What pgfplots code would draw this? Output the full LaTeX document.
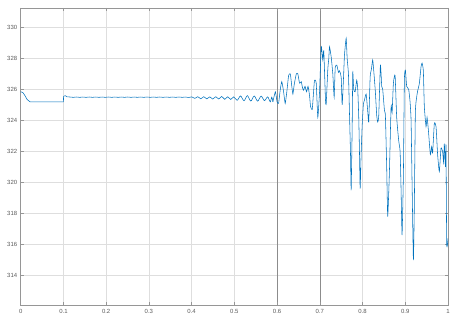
\documentclass[border=0pt]{standalone}
\usepackage{fontspec}
\setmainfont{Liberation Sans}
\usepackage{pgfplots}
\pgfplotsset{compat=1.18}
\definecolor{mblue}{RGB}{0,114,189}
\definecolor{gridc}{RGB}{222,222,222}
\definecolor{axc}{RGB}{150,150,150}
\definecolor{labc}{RGB}{90,90,90}
\definecolor{darkgrid}{RGB}{140,140,140}
\begin{document}
\begin{tikzpicture}
\path[use as bounding box] (-20.7bp,-16bp) rectangle (439.3bp,305bp);
\begin{axis}[
  scale only axis, width=427.3bp, height=297bp,
  xmin=0, xmax=1, ymin=312.1, ymax=331.25,
  xtick={0,0.1,...,1}, ytick={314,316,...,330},
  xticklabels={0,0.1,0.2,0.3,0.4,0.5,0.6,0.7,0.8,0.9,1},
  grid=major, grid style={gridc, line width=0.5bp},
  axis line style={axc, line width=0.6bp},
  tick style={axc, line width=0.5bp}, tick align=inside, major tick length=3bp,
  ticklabel style={font=\fontsize{6}{7}\selectfont, text=labc},
  /pgf/number format/assume math mode=true,
  yticklabel style={/pgf/number format/.cd, fixed, precision=0},
  xticklabel style={yshift=-1bp},
  extra x ticks={0.6,0.7}, extra x tick labels={},
  extra x tick style={grid style={darkgrid, line width=0.5bp}},
  clip=true,
]
\addplot[mblue, line width=0.55bp] coordinates {
(0,325.85) (0.005,325.8) (0.01,325.6) (0.015,325.35) (0.022,325.2) (0.1,325.2)
(0.1003,325.55) (0.104,325.6) (0.109,325.52)
};
\addplot[mblue, line width=0.55bp, smooth, tension=0.5] coordinates {
(0.109,325.52)
(0.1155,325.51) (0.123,325.49) (0.1305,325.51) (0.138,325.49) (0.1455,325.51) (0.153,325.49)
(0.1605,325.51) (0.168,325.49) (0.1755,325.51) (0.183,325.49) (0.1905,325.51) (0.198,325.49)
(0.2055,325.51) (0.213,325.49) (0.2205,325.51) (0.228,325.49) (0.2355,325.51) (0.243,325.49)
(0.2505,325.51) (0.258,325.49) (0.2655,325.51) (0.273,325.49) (0.2805,325.51) (0.288,325.49)
(0.2955,325.51) (0.303,325.49) (0.3105,325.51) (0.318,325.49) (0.3255,325.51) (0.333,325.49)
(0.3405,325.51) (0.348,325.49) (0.3555,325.51) (0.363,325.49) (0.3705,325.51) (0.378,325.49)
(0.3855,325.51) (0.393,325.48) (0.4005,325.52)
(0.4075,325.42) (0.4145,325.53) (0.4215,325.40) (0.4285,325.53) (0.4355,325.39) (0.4425,325.52)
(0.4495,325.38) (0.4565,325.53) (0.4635,325.38) (0.4705,325.55) (0.4775,325.36) (0.4845,325.53)
(0.4915,325.35) (0.4985,325.52)
(0.5065,325.3) (0.5145,325.58) (0.5225,325.27) (0.5305,325.6) (0.5385,325.25) (0.5465,325.58)
(0.5545,325.24) (0.5625,325.57) (0.5705,325.28) (0.578,325.52) (0.584,325.2) (0.5875,325.5)
(0.5902,325.2)
};
\addplot[mblue, line width=0.55bp, smooth, tension=0.3] coordinates {
(0.5902,325.2) (0.596,325.85) (0.600,325.2) (0.6035,325.1) (0.6075,326.0) (0.611,326.5)
(0.615,325.9) (0.619,325.1) (0.623,325.9) (0.627,326.9) (0.631,327.0) (0.634,326.3)
(0.637,325.7) (0.640,326.3) (0.645,327.0) (0.6486,327.0) (0.6526,326.4) (0.6565,326.5)
(0.6596,326.1) (0.662,325.95) (0.6654,326.2) (0.669,325.85) (0.6724,326.2) (0.676,325.6)
(0.6783,324.9) (0.6822,324.7) (0.6853,325.8) (0.6876,326.6) (0.6916,326.4) (0.6953,324.2)
(0.6993,325.8) (0.7033,328.75) (0.707,327.9) (0.7093,328.5) (0.7133,325.3) (0.715,325.1)
(0.7187,327.3) (0.721,328.0) (0.7227,328.75) (0.7266,328.1) (0.7304,327.0) (0.7336,325.5)
(0.736,327.4) (0.7397,327.57) (0.7437,327.1) (0.746,327.2) (0.75,326.8) (0.7523,325.0)
(0.7554,326.7) (0.7577,328.2) (0.7617,329.3) (0.764,328.0) (0.767,327.0) (0.7694,324.5)
(0.7717,322.0) (0.7734,319.5) (0.7757,323.5) (0.7771,327.1) (0.7794,326.0) (0.7827,325.85)
(0.7864,326.6) (0.7888,326.0) (0.7911,324.2) (0.7928,322.0) (0.7944,319.6) (0.7967,321.8)
(0.799,323.6) (0.8021,325.1) (0.8044,325.3) (0.8084,325.7) (0.8121,324.6) (0.8145,323.9)
(0.8178,326.8) (0.8208,327.3) (0.8238,327.9) (0.8271,326.9) (0.8301,325.8) (0.8332,324.3)
(0.8355,323.9) (0.8379,324.3) (0.8418,327.57) (0.8449,326.2) (0.8472,326.0) (0.8512,324.66)
(0.8535,324.3) (0.8565,321.0) (0.8589,317.8) (0.8628,320.6) (0.8668,324.9) (0.8692,324.5)
(0.8722,326.4) (0.8762,326.9) (0.8799,324.2) (0.8846,322.7) (0.8879,322.0) (0.8902,319.5)
(0.8925,316.6) (0.8956,320.5) (0.8979,326.6) (0.9003,327.25) (0.9033,326.2) (0.908,326.0)
(0.9112,325.2) (0.9136,324.0) (0.9159,320.0) (0.919,315.0) (0.9212,318.5) (0.9236,324.5)
(0.9266,325.5) (0.929,325.9) (0.933,326.4) (0.9369,327.46) (0.9393,327.7) (0.9423,327.2)
(0.9446,324.9) (0.9486,323.6) (0.951,324.2) (0.954,323.4) (0.9587,321.8) (0.9617,322.3)
(0.964,321.9) (0.968,323.8) (0.972,323.6) (0.9757,321.8) (0.9797,320.7) (0.9836,322.2)
(0.9874,322.0) (0.9897,321.3) (0.9914,322.5) (0.994,321.0) (0.9953,322.4) (0.997,316.0)
(1.0,316.4)
};
\end{axis}
\end{tikzpicture}
\end{document}
